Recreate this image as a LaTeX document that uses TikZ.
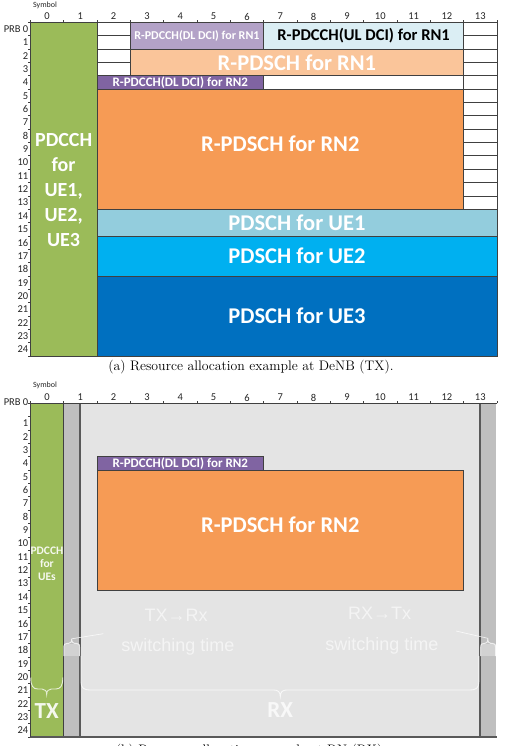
\documentclass[tikz,border=0pt]{standalone}
\usepackage{fontspec}
\newfontfamily\calib{Carlito}
\newfontfamily\arialf{Liberation Sans}
\definecolor{cgreen}{HTML}{9BBB59}
\definecolor{cpurl}{HTML}{B3A2C7}
\definecolor{cpurd}{HTML}{8064A2}
\definecolor{culdci}{HTML}{DBEEF4}
\definecolor{cpeach}{HTML}{FAC59A}
\definecolor{corange}{HTML}{F69B55}
\definecolor{cueone}{HTML}{93CDDD}
\definecolor{cuetwo}{HTML}{00B0F0}
\definecolor{cuethree}{HTML}{0070C0}
\definecolor{cgreyl}{HTML}{E4E4E4}
\definecolor{cgreym}{HTML}{BFBFBF}
\definecolor{cline}{HTML}{404040}
\definecolor{cdark}{HTML}{595959}
\newcommand\rsx[1]{(30.3+(#1)*33.33)}
\newcommand\rsya[1]{(22.3+(#1)*13.35)}
\newcommand\rsyb[1]{(403.3+(#1)*13.35)}
\begin{document}
\begin{tikzpicture}[x=1pt,y=-1pt,
  bx/.style={draw=cline, line width=0.6pt},
  ax/.style={draw=cline, line width=0.6pt},
  darkline/.style={draw=cdark, line width=1.6pt},
  axnum/.style={font=\calib\fontsize{10.5}{12}\selectfont, text=black!85, inner sep=0pt},
  prb/.style={axnum, anchor=east},
  symb/.style={font=\calib\fontsize{8}{9}\selectfont, text=black!85, inner sep=0pt},
  wl/.style={font=\calib\bfseries\fontsize{#1}{#1}\selectfont, text=white, inner sep=0pt},
  pale/.style={draw=white, draw opacity=0.75, line width=0.9pt},
  sw/.style={font=\arialf\fontsize{18}{20}\selectfont, text=white, text opacity=0.6, inner sep=0pt, anchor=base},
  capt/.style={font=\rmfamily\fontsize{13.8}{15}\selectfont, text=black, inner sep=0pt, anchor=base}
]
\useasboundingbox (0,0) rectangle (504,746);
\clip (0,0) rectangle (504,746);
\fill[white] (0,0) rectangle (504,746);

% ================= panel (a) =================
\draw[bx, fill=cgreen] ({\rsx{0}},{\rsya{0}}) rectangle ({\rsx{2}},{\rsya{25}});
\foreach \r in {0,...,3}
  \draw[bx, fill=white] ({\rsx{2}},{\rsya{\r}}) rectangle ({\rsx{3}},{\rsya{\r+1}});
\foreach \r in {0,...,13}
  \draw[bx, fill=white] ({\rsx{13}},{\rsya{\r}}) rectangle ({\rsx{14}},{\rsya{\r+1}});
\draw[bx, fill=cpurl] ({\rsx{3}},{\rsya{0}}) rectangle ({\rsx{7}},{\rsya{2}});
\draw[bx, fill=culdci] ({\rsx{7}},{\rsya{0}}) rectangle ({\rsx{13}},{\rsya{2}});
\draw[bx, fill=cpeach] ({\rsx{3}},{\rsya{2}}) rectangle ({\rsx{13}},{\rsya{4}});
\draw[bx, fill=cpurd] ({\rsx{2}},{\rsya{4}}) rectangle ({\rsx{7}},{\rsya{5}});
\draw[bx, fill=corange] ({\rsx{2}},{\rsya{5}}) rectangle ({\rsx{13}},{\rsya{14}});
\draw[bx, fill=cueone] ({\rsx{2}},{\rsya{14}}) rectangle ({\rsx{14}},{\rsya{16}});
\draw[bx, fill=cuetwo] ({\rsx{2}},{\rsya{16}}) rectangle ({\rsx{14}},{\rsya{19}});
\draw[bx, fill=cuethree] ({\rsx{2}},{\rsya{19}}) rectangle ({\rsx{14}},{\rsya{25}});

\node[wl=20, align=center, font=\calib\bfseries\fontsize{20}{25}\selectfont] (pdcch) at ({\rsx{1}},190) {PDCCH\\for\\UE1,\\UE2,\\UE3};
\node[wl=12] (dlrn1) at ({\rsx{5}},{\rsya{1}}) {R-PDCCH(DL DCI) for RN1};
\node[wl=16.5, text=black] (ulrn1) at ({\rsx{10}},{\rsya{1}}) {R-PDCCH(UL DCI) for RN1};
\node[wl=22.5] (pdschrn1) at ({\rsx{8}},{\rsya{3}}) {R-PDSCH for RN1};
\node[wl=13] (dlrn2) at ({\rsx{4.5}},{\rsya{4.5}}) {R-PDCCH(DL DCI) for RN2};
\node[wl=22.5] (pdschrn2) at ({\rsx{7.5}},143.5) {R-PDSCH for RN2};
\node[wl=22.5] (ueone) at ({\rsx{8}},{\rsya{15}}) {PDSCH for UE1};
\node[wl=22.5] (uetwo) at ({\rsx{8}},{\rsya{17.5}}) {PDSCH for UE2};
\node[wl=22.5] (uethree) at ({\rsx{8}},{\rsya{22}}) {PDSCH for UE3};

% axes (a)
\draw[ax] ({\rsx{0}},{\rsya{0}}) -- ({\rsx{14}},{\rsya{0}});
\draw[ax] ({\rsx{0}},{\rsya{0}}) -- ({\rsx{0}},{\rsya{25}});
\foreach \c in {0,...,14} \draw[ax] ({\rsx{\c}},{\rsya{0}}) -- ++(0,-2.5);
\foreach \r in {0,...,25} \draw[ax] ({\rsx{0}},{\rsya{\r}}) -- ++(-2.5,0);
\foreach \c in {0,...,13} \node[axnum] (ta\c) at ({\rsx{\c+0.5}},16.5) {\c};
\node[prb] (la0) at (28.5,{\rsya{0.5}}) {PRB 0};
\foreach \r in {1,...,24} \node[prb] (la\r) at (28.5,{\rsya{\r+0.5}}) {\r};
\node[symb] (syma) at (45,5.5) {Symbol};

\node[capt] (capa) at (251,370) {(a) Resource allocation example at DeNB (TX).};

% ================= panel (b) =================
\draw[fill=cgreyl, draw=cgreym!60] ({\rsx{1.5}},{\rsyb{0}}) rectangle ({\rsx{13.5}},{\rsyb{25}});
\fill[cgreym] ({\rsx{1}},{\rsyb{0}}) rectangle ({\rsx{1.5}},{\rsyb{25}});
\fill[cgreym] ({\rsx{13.5}},{\rsyb{0}}) rectangle (496,{\rsyb{25}});
\draw[bx, fill=cgreen] ({\rsx{0}},{\rsyb{0}}) rectangle ({\rsx{1}},{\rsyb{25}});
\draw[bx, fill=cpurd] ({\rsx{2}},{\rsyb{4}}) rectangle ({\rsx{7}},{\rsyb{5}});
\draw[bx, fill=corange] ({\rsx{2}},{\rsyb{5}}) rectangle ({\rsx{13}},{\rsyb{14}});
\draw[darkline] ({\rsx{1.5}},{\rsyb{0}}) -- ({\rsx{1.5}},{\rsyb{25}});
\draw[darkline] ({\rsx{13.5}},{\rsyb{0}}) -- ({\rsx{13.5}},{\rsyb{25}});
\draw[darkline, line width=1.2pt] ({\rsx{0}},{\rsyb{25}}) -- (497,{\rsyb{25}});

\node[wl=13] (dlrn2b) at ({\rsx{4.5}},{\rsyb{4.5}}) {R-PDCCH(DL DCI) for RN2};
\node[wl=22.5] (pdschrn2b) at ({\rsx{7.5}},525) {R-PDSCH for RN2};
\node[wl=11.5, align=center, font=\calib\bfseries\fontsize{11.5}{13}\selectfont, text opacity=0.9] (pdcchb) at ({\rsx{0.5}},563.5) {PDCCH\\for\\UEs};

% axes (b)
\draw[ax] ({\rsx{0}},{\rsyb{0}}) -- ({\rsx{14}},{\rsyb{0}});
\draw[ax] ({\rsx{0}},{\rsyb{0}}) -- ({\rsx{0}},{\rsyb{25}});
\foreach \c in {0,...,14} \draw[ax] ({\rsx{\c}},{\rsyb{0}}) -- ++(0,-2.5);
\foreach \r in {0,...,25} \draw[ax] ({\rsx{0}},{\rsyb{\r}}) -- ++(-2.5,0);
\foreach \c in {0,...,13} \node[axnum] (tb\c) at ({\rsx{\c+0.5}},397.5) {\c};
\node[prb] (lb0) at (28.5,402) {PRB 0};
\foreach \r in {1,...,24} \node[prb] (lb\r) at (28.5,{\rsyb{\r+0.5}}) {\r};
\node[symb] (symb) at (45,385.5) {Symbol};

% switching-time labels
\node[sw] (txrx) at (176,621) {TX→Rx};
\node[sw] (swl) at (178,651.5) {switching time};
\node[sw] (rxtx) at (379.5,619.5) {RX→Tx};
\node[sw] (swr) at (382,650) {switching time};

% small braces at the switching columns
\coordinate (ltip) at (71.7,638.8);
\coordinate (rtip) at (487.8,638.3);
\fill[white, opacity=0.3] (64,644) rectangle (79.6,656);
\fill[white, opacity=0.3] (480.6,644) rectangle (495.5,656);
\draw[pale] (63.8,656) -- (63.8,647.5) .. controls (63.8,644.2) and (65,643.3) .. (67.5,643.3) -- (68.8,643.3) .. controls (70.6,643.3) and (71.7,642) .. (ltip) .. controls (71.7,642) and (72.8,643.3) .. (74.6,643.3) -- (76,643.3) .. controls (78.5,643.3) and (79.6,644.2) .. (79.6,647.5) -- (79.6,656);
\draw[pale] (480.6,656) -- (480.6,647.5) .. controls (480.6,644.2) and (481.8,643.3) .. (484.3,643.3) -- (485,643.3) .. controls (486.8,643.3) and (487.8,642) .. (rtip) .. controls (487.8,642) and (488.8,643.3) .. (490.6,643.3) -- (492,643.3) .. controls (494.5,643.3) and (495.5,644.2) .. (495.5,647.5) -- (495.5,656);
\coordinate (lend) at (103.3,633.7);
\coordinate (rend) at (456,631);
\draw[pale, line width=0.7pt] (ltip) -- (lend);
\draw[pale, line width=0.7pt] (rtip) -- (rend);

% TX brace
\coordinate (txtip) at (46.7,694.5);
\draw[pale] (30.8,677.5) .. controls (30.8,686) and (33,689) .. (38,689) -- (42,689) .. controls (45,689) and (46.7,691) .. (txtip) .. controls (46.7,691) and (48.4,689) .. (51.4,689) -- (55.6,689) .. controls (60.6,689) and (62.8,686) .. (62.8,677.5);
\node[wl=23, text opacity=0.9] (tx) at (46.7,711) {TX};

% RX brace
\coordinate (rxtip) at (280.3,696.5);
\draw[pale] (81,656) -- (81,682) .. controls (81,688) and (84,690) .. (90,690) -- (274,690) .. controls (278,690) and (280.3,692) .. (rxtip) .. controls (280.3,692) and (282.6,690) .. (286.6,690) -- (470,690) .. controls (476,690) and (478.8,688) .. (478.8,682) -- (478.8,656);
\node[wl=23, text opacity=0.75] (rx) at (280.3,710) {RX};

\node[capt] (capb) at (251,754.5) {(b) Resource allocation example at RN (RX).};
\end{tikzpicture}
\end{document}
